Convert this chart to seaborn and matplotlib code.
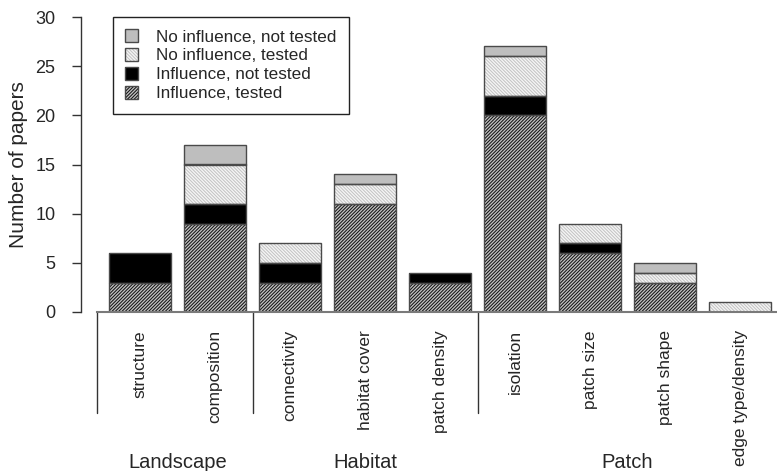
import matplotlib
matplotlib.use("Agg")
import matplotlib.pyplot as plt
from matplotlib.patches import Patch, Rectangle
from matplotlib.legend_handler import HandlerTuple
import seaborn as sns
import numpy as np

# Metrics tested in the reviewed papers, grouped by scale
categories = ["structure", "composition", "connectivity", "habitat cover",
              "patch density", "isolation", "patch size", "patch shape",
              "edge type/density"]
groups = ["Landscape", "Habitat", "Patch"]
group_sizes = [2, 3, 4]

# Number of papers per outcome (stacked bottom to top)
influence_tested = [3, 9, 3, 11, 3, 20, 6, 3, 0]
influence_not_tested = [3, 2, 2, 0, 1, 2, 1, 0, 0]
no_influence_tested = [0, 4, 2, 2, 0, 4, 2, 1, 1]
no_influence_not_tested = [0, 2, 0, 1, 0, 1, 0, 1, 0]

layers = [
    ("Influence, tested", influence_tested,
     dict(face="#c2c2c2", hatch="/" * 10, hcol="#141414")),
    ("Influence, not tested", influence_not_tested,
     dict(face="#000000", hatch=None, hcol="#000000")),
    ("No influence, tested", no_influence_tested,
     dict(face="#f6f6f6", hatch="\\" * 10, hcol="#c4c4c4")),
    ("No influence, not tested", no_influence_not_tested,
     dict(face="#bebebe", hatch=None, hcol="#bebebe")),
]

sns.set_style("white")
plt.rcParams["font.family"] = ["Liberation Sans", "DejaVu Sans"]
plt.rcParams["hatch.linewidth"] = 0.75

fig = plt.figure(figsize=(7.77, 4.71), dpi=100)
ax = fig.add_axes([81 / 777, 159 / 471, 696 / 777, 295 / 471])

outline = "#4a4a4a"
bar_w = 0.83
bottom = np.zeros(len(categories))
for label, vals, st in layers:
    vals = np.asarray(vals, dtype=float)
    sns.barplot(x=categories, y=vals, bottom=bottom, color=st["face"],
                hatch=st["hatch"], edgecolor=st["hcol"], linewidth=0,
                width=bar_w, saturation=1, ax=ax, order=categories)
    bottom = bottom + vals

# Outline every non-empty segment
for p in list(ax.patches):
    if p.get_height() > 0:
        ax.add_patch(Rectangle(p.get_xy(), p.get_width(), p.get_height(),
                               fill=False, edgecolor=outline, linewidth=1.0,
                               zorder=p.get_zorder() + 0.1))

ax.set_ylim(0, 30)
ax.set_xlim(-0.787, 8.493)
ax.set_yticks(np.arange(0, 31, 5))
ax.set_ylabel("Number of papers", fontsize=15, labelpad=5)
ax.set_xlabel("")

for s in ["top", "right"]:
    ax.spines[s].set_visible(False)
ax.spines["left"].set_color("#333333")
ax.spines["left"].set_linewidth(1.0)
ax.spines["bottom"].set_color("#7a7a7a")
ax.spines["bottom"].set_linewidth(1.5)
ax.spines["bottom"].set_bounds(-0.573, 8.493)

ax.tick_params(axis="y", direction="out", length=6.5, width=1.0, color="#333333",
               labelsize=13, pad=12, left=True)
ax.tick_params(axis="x", length=0, labelsize=12.5, pad=13)
ax.set_xticks(range(len(categories)))
ax.set_xticklabels(categories, rotation=90, va="top", ha="center")

# Group separators and group names below the axis
bounds = np.concatenate([[0], np.cumsum(group_sizes)])
sep_x = [-0.573] + [b - 0.5 for b in bounds[1:-1]]
for x in sep_x:
    ax.plot([x, x], [0, -10.3], color="#333333", lw=1.0, clip_on=False)
for g, a, b in zip(groups, bounds[:-1], bounds[1:]):
    ax.text((a + b - 1) / 2, -15.3, g, ha="center", va="center",
            fontsize=14.5, clip_on=False)

# Legend (top entry = top of stack)
handles, labels = [], []
for label, vals, st in reversed(layers):
    fillp = Patch(facecolor=st["face"], hatch=st["hatch"],
                  edgecolor=st["hcol"], linewidth=0)
    edge = Patch(facecolor="none", edgecolor=outline, linewidth=1.0)
    handles.append((fillp, edge))
    labels.append(label)
leg = ax.legend(handles, labels,
                handler_map={tuple: HandlerTuple(ndivide=1, pad=0)},
                loc="upper left", bbox_to_anchor=(0.046, 1.0), borderaxespad=0,
                fontsize=12.3, frameon=True, fancybox=False, shadow=False,
                handlelength=0.75, handleheight=0.75, handletextpad=1.05,
                labelspacing=0.22, borderpad=0.72)
leg.get_frame().set_edgecolor("#222222")
leg.get_frame().set_linewidth(1.0)
leg.get_frame().set_alpha(1)

fig.savefig("out.png", dpi=100)
